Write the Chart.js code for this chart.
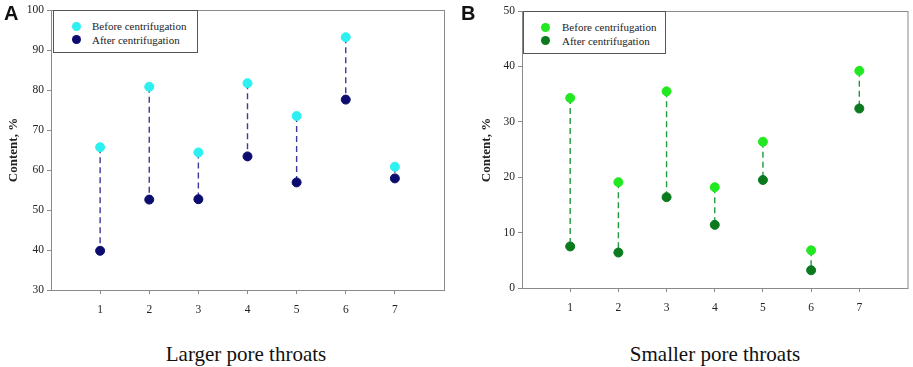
<!DOCTYPE html>
<html>
<head>
<meta charset="utf-8">
<script src="https://cdn.jsdelivr.net/npm/chart.js@4"></script>
<style>
  body { margin: 0; background: #fff; }
  #wrap { position: relative; width: 913px; height: 367px; overflow: hidden; font-family: "Liberation Serif", "Times New Roman", serif; color: #222; }
  canvas { position: absolute; top: 0; }
  .abs { position: absolute; white-space: nowrap; }
  .letter { font-family: "Liberation Sans", Arial, sans-serif; font-weight: bold; font-size: 20px; color: #111; }
  .ytitle { font-family: "Liberation Serif", serif; font-weight: bold; font-size: 13px; transform: translate(-50%, -50%) rotate(-90deg); }
  .legend { border: 1px solid #555; background: #fff; box-sizing: border-box; }
  .legend .row { position: absolute; left: 0; font-family: "Liberation Serif", serif; font-size: 11px; line-height: 14px; }
  .legend .dot { position: absolute; width: 9px; height: 9px; border-radius: 50%; }
  .sub { font-family: "Liberation Serif", "Times New Roman", serif; font-size: 21px; color: #111; transform: translateX(-50%); }
</style>
</head>
<body>
<div id="wrap">
  <canvas id="chartA" width="455" height="320" style="left:0"></canvas>
  <canvas id="chartB" width="458" height="320" style="left:455px"></canvas>

  <div class="abs letter" style="left:4px; top:2px">A</div>
  <div class="abs letter" style="left:461px; top:2px">B</div>

  <div class="abs ytitle" style="left:13px; top:150px">Content, %</div>
  <div class="abs ytitle" style="left:486px; top:150px">Content, %</div>

  <div class="abs legend" style="left:53px; top:10px; width:145px; height:43px">
    <div class="dot" style="left:18px; top:11px; background:#2ef0f0"></div>
    <div class="row" style="left:38px; top:8px">Before centrifugation</div>
    <div class="dot" style="left:18px; top:24px; background:#0c0c6e"></div>
    <div class="row" style="left:38px; top:22px">After centrifugation</div>
  </div>
  <div class="abs legend" style="left:523px; top:11px; width:143px; height:43px">
    <div class="dot" style="left:17px; top:11px; background:#22e822"></div>
    <div class="row" style="left:38px; top:8px">Before centrifugation</div>
    <div class="dot" style="left:17px; top:24px; background:#0b7a1e"></div>
    <div class="row" style="left:38px; top:22px">After centrifugation</div>
  </div>

  <div class="abs sub" style="left:246px; top:342px">Larger pore throats</div>
  <div class="abs sub" style="left:715px; top:342px">Smaller pore throats</div>
</div>

<script>
const samples = [1, 2, 3, 4, 5, 6, 7]

// Panel A: larger pore throats
const largerBefore = [65.7, 80.8, 64.4, 81.7, 73.5, 93.2, 60.8]
const largerAfter  = [39.8, 52.6, 52.7, 63.4, 56.9, 77.6, 57.9]
const largerTicks  = [30, 40, 50, 60, 70, 80, 90, 100]

// Panel B: smaller pore throats
const smallerBefore = [34.3, 19.1, 35.5, 18.2, 26.4, 6.8, 39.2]
const smallerAfter  = [7.5, 6.4, 16.4, 11.4, 19.5, 3.2, 32.4]
const smallerTicks  = [0, 10, 20, 30, 40, 50]

const frameBox = {
  id: "frameBox",
  afterDraw(chart) {
    const { ctx, chartArea: a } = chart
    ctx.save()
    ctx.strokeStyle = "#8a8a8a"
    ctx.lineWidth = 1
    ctx.strokeRect(a.left + 0.5, a.top + 0.5, a.right - a.left, a.bottom - a.top)
    ctx.restore()
  }
}

function makeChart(id, before, after, ticks, opts) {
  const links = samples.map((s, i) => ({
    type: "line",
    data: [{ x: s, y: before[i] }, { x: s, y: after[i] }],
    borderColor: opts.linkColor,
    borderWidth: 1.4,
    borderDash: [6, 4],
    pointRadius: 0,
    order: 2
  }))

  return new Chart(document.getElementById(id), {
    type: "scatter",
    data: {
      datasets: [
        ...links,
        {
          label: "Before centrifugation",
          data: samples.map((s, i) => ({ x: s, y: before[i] })),
          backgroundColor: opts.beforeColor,
          borderColor: opts.beforeColor,
          pointRadius: 4.5,
          order: 1
        },
        {
          label: "After centrifugation",
          data: samples.map((s, i) => ({ x: s, y: after[i] })),
          backgroundColor: opts.afterColor,
          borderColor: opts.afterColor,
          pointRadius: 4.5,
          order: 1
        }
      ]
    },
    options: {
      responsive: false,
      animation: false,
      layout: { padding: opts.padding },
      plugins: { legend: { display: false }, tooltip: { enabled: false } },
      scales: {
        x: {
          type: "linear",
          min: 0,
          max: 8,
          afterBuildTicks: s => { s.ticks = samples.map(v => ({ value: v })) },
          afterFit: s => { s.height = opts.xHeight },
          grid: { drawOnChartArea: false, drawTicks: true, tickLength: 4, color: "#8a8a8a" },
          border: { display: false },
          ticks: { color: "#222", padding: 9, font: { family: "Liberation Serif", size: 11.5 } }
        },
        y: {
          min: ticks[0],
          max: ticks[ticks.length - 1],
          afterBuildTicks: s => { s.ticks = ticks.map(v => ({ value: v })) },
          afterFit: s => { s.width = opts.yWidth },
          grid: { drawOnChartArea: false, drawTicks: true, tickLength: 4, color: "#8a8a8a" },
          border: { display: false },
          ticks: { color: "#222", padding: 3, font: { family: "Liberation Serif", size: 11.5 } }
        }
      }
    },
    plugins: [frameBox]
  })
}

makeChart("chartA", largerBefore, largerAfter, largerTicks, {
  beforeColor: "#2ef0f0",
  afterColor: "#0c0c6e",
  linkColor: "#3a3a98",
  padding: { top: 10, right: 11, left: 0, bottom: 0 },
  yWidth: 51,
  xHeight: 30
})

makeChart("chartB", smallerBefore, smallerAfter, smallerTicks, {
  beforeColor: "#22e822",
  afterColor: "#0b7a1e",
  linkColor: "#1f9a3c",
  padding: { top: 11, right: 5, left: 0, bottom: 0 },
  yWidth: 67,
  xHeight: 32
})
</script>
</body>
</html>
